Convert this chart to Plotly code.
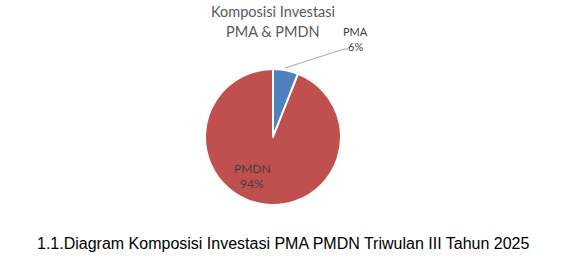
import plotly.graph_objects as go

W, H = 569, 270
labels = ["PMA", "PMDN"]
values = [6, 94]
colors = ["#4F81BD", "#C0504D"]
title_lines = ["Komposisi Investasi", "PMA & PMDN"]
caption = "1.1.Diagram Komposisi Investasi PMA PMDN Triwulan III Tahun 2025"

cx, cy, r = 273, 137, 68

def px(x):
    return x / W

def py(y):
    return 1 - y / H

fig = go.Figure(go.Pie(
    labels=labels, values=values, sort=False, direction="clockwise", rotation=0,
    marker=dict(colors=colors, line=dict(color="white", width=2)),
    textinfo="none", hoverinfo="label+percent", showlegend=False,
    domain=dict(x=[px(cx - r), px(cx + r)], y=[py(cy + r), py(cy - r)]),
))

total = sum(values)
pct = [f"{round(v * 100 / total)}%" for v in values]

ann = []
for i, (t, yy) in enumerate(zip(title_lines, [12, 31])):
    ann.append(dict(x=px(cx), y=py(yy), xref="paper", yref="paper", showarrow=False,
                    text=t, font=dict(family="Lato", size=14.5, color="#595959"),
                    align="center", yanchor="middle"))
for t, yy in zip([labels[0], pct[0]], [32, 46]):
    ann.append(dict(x=px(355), y=py(yy), xref="paper", yref="paper", showarrow=False,
                    text=t, font=dict(family="Lato", size=11, color="#404040"),
                    align="center", yanchor="middle"))
for t, yy in zip([labels[1], pct[1]], [168, 183]):
    ann.append(dict(x=px(252), y=py(yy), xref="paper", yref="paper", showarrow=False,
                    text=t, font=dict(family="Lato", size=12, color="#404040"),
                    align="center", yanchor="middle"))
ann.append(dict(x=px(283), y=py(243), xref="paper", yref="paper", showarrow=False,
                text=caption, font=dict(family="Liberation Sans", size=16, color="#000000"),
                yanchor="middle"))

shapes = [
    dict(type="line", xref="paper", yref="paper", x0=px(285), y0=py(68), x1=px(344), y1=py(49),
         line=dict(color="#A6A6A6", width=1)),
    dict(type="line", xref="paper", yref="paper", x0=px(344), y0=py(49), x1=px(348), y1=py(49),
         line=dict(color="#A6A6A6", width=1)),
]

fig.update_layout(
    width=W, height=H, margin=dict(l=0, r=0, t=0, b=0),
    paper_bgcolor="white", plot_bgcolor="white",
    annotations=ann, shapes=shapes,
)
fig.write_html("out.html")
